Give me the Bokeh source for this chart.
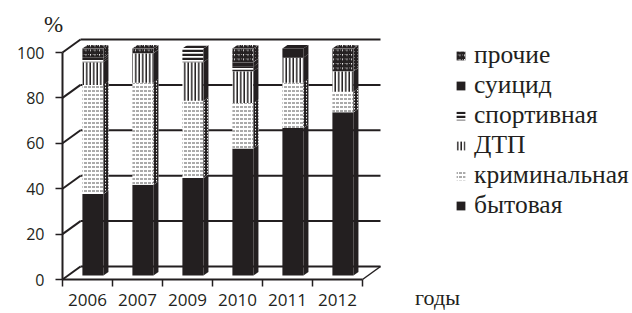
from bokeh.plotting import figure
from bokeh.models import Range1d, FixedTicker, Label, Legend, LegendItem
from bokeh.embed import file_html
from bokeh.resources import INLINE

# ---- data (percent, stacked bottom -> top) ----
years = ["2006", "2007", "2009", "2010", "2011", "2012"]
bytovaya = [36, 40, 43, 56, 65, 72]
kriminalnaya = [48, 45, 34, 20, 20, 9]
dtp = [10, 13, 17, 14, 11, 9]
sportivnaya = [1, 0, 6, 2, 0, 0]
suicid = [1, 0, 0, 2, 4, 0]
prochie = [4, 2, 0, 6, 0, 10]
series_names = ["бытовая", "криминальная", "ДТП", "спортивная", "суицид", "прочие"]
series_values = [bytovaya, kriminalnaya, dtp, sportivnaya, suicid, prochie]
y_ticks = [0, 20, 40, 60, 80, 100]

BLACK = "#231f20"
SERIF = "Liberation Serif"
SANS = "Open Sans"
front_styles = [
    dict(fill_color=BLACK),
    dict(fill_color="white", hatch_pattern="horizontal_dash", hatch_color="#555555", hatch_scale=4, hatch_weight=1),
    dict(fill_color="white", hatch_pattern="vertical_line", hatch_color=BLACK, hatch_scale=3.5, hatch_weight=1.5),
    dict(fill_color="white", hatch_pattern="horizontal_line", hatch_color=BLACK, hatch_scale=4, hatch_weight=2.5),
    dict(fill_color=BLACK),
    dict(fill_color="white", hatch_pattern="right_diagonal_line", hatch_color=BLACK, hatch_scale=4.5, hatch_weight=2),
]
diag_side = dict(fill_color="white", hatch_pattern="right_diagonal_line", hatch_color=BLACK, hatch_scale=3, hatch_weight=1.5)
side_styles = [dict(fill_color=BLACK), diag_side, dict(fill_color=BLACK), dict(fill_color=BLACK),
               dict(fill_color=BLACK), dict(fill_color="white", hatch_pattern="right_diagonal_line",
                                           hatch_color=BLACK, hatch_scale=3, hatch_weight=2.5)]

# ---- geometry ----
FIG_W, FIG_H = 632, 313
ORIGIN_X, ORIGIN_Y = 62, 279      # pixel position of (0, 0) inside the figure
PX_X = 50.0                        # px per category
PX_Y = 2.27                        # px per percent
DX, DY = 18 / PX_X, 13 / PX_Y      # depth of the 3-D box
F, W = 0.3, 0.28                   # bar front depth, bar depth
fx, fy = F * DX, F * DY
bx, by = W * DX, W * DY
HW = 0.21
n = len(years)

p = figure(width=FIG_W, height=FIG_H,
           x_range=Range1d(-ORIGIN_X / PX_X, (FIG_W - ORIGIN_X) / PX_X),
           y_range=Range1d(-(FIG_H - ORIGIN_Y) / PX_Y, ORIGIN_Y / PX_Y),
           min_border_left=0, min_border_right=0, min_border_top=0, min_border_bottom=0,
           output_backend="svg", toolbar_location=None)
p.outline_line_color = None
p.grid.visible = False
p.background_fill_color = "white"

# walls / floor
for v in y_ticks:
    p.segment(x0=[DX], y0=[v + DY], x1=[n + DX], y1=[v + DY], line_color=BLACK, line_width=2)
    p.segment(x0=[0], y0=[v], x1=[DX], y1=[v + DY], line_color=BLACK, line_width=2)
p.segment(x0=[n], y0=[0], x1=[n + DX], y1=[DY], line_color=BLACK, line_width=1.5)

# bars
bottoms = [0] * n
renderers = []
tops_total = [sum(vals) for vals in zip(*series_values)]
top_series = [max(k for k in range(len(series_values)) if series_values[k][i] > 0) for i in range(n)]

for k, vals in enumerate(series_values):
    xs_c = [i + 0.5 + fx for i in range(n)]
    bots = [b + fy for b in bottoms]
    tops = [b + v + fy for b, v in zip(bottoms, vals)]
    r = p.vbar(x=xs_c, width=2 * HW, bottom=bots, top=tops, line_color=None, **front_styles[k])
    renderers.append(r)
    sx, sy = [], []
    for i in range(n):
        if vals[i] <= 0:
            continue
        xr = i + 0.5 + fx + HW
        sx.append([xr, xr + bx, xr + bx, xr])
        sy.append([bots[i], bots[i] + by, tops[i] + by, tops[i]])
    if sx:
        p.patches(xs=sx, ys=sy, line_color=None, **side_styles[k])
    tx, ty = [], []
    for i in range(n):
        if top_series[i] != k:
            continue
        xl = i + 0.5 + fx - HW
        xr = xl + 2 * HW
        T = tops_total[i] + fy
        tx.append([xl, xr, xr + bx, xl + bx])
        ty.append([T, T, T + by, T + by])
    if tx:
        p.patches(xs=tx, ys=ty, line_color=None, **front_styles[k])
    bottoms = [b + v for b, v in zip(bottoms, vals)]

# axes (placed at the data origin, inside the frame)
p.yaxis.fixed_location = 0
p.yaxis.ticker = FixedTicker(ticks=y_ticks)
p.yaxis.bounds = (0, 100)
p.yaxis.major_tick_out = 7
p.yaxis.major_tick_in = 0
p.yaxis.minor_tick_line_color = None
p.yaxis.axis_line_width = 2
p.yaxis.axis_line_color = BLACK
p.yaxis.major_tick_line_color = BLACK
p.yaxis.major_tick_line_width = 1.5
p.yaxis.major_label_standoff = 11
p.yaxis.major_label_text_font = SANS
p.yaxis.major_label_text_font_size = "16px"
p.yaxis.major_label_text_color = BLACK

centers = [i + 0.5 for i in range(n)]
p.xaxis.fixed_location = 0
p.xaxis.ticker = FixedTicker(ticks=centers, minor_ticks=list(range(n + 1)))
p.xaxis.major_label_overrides = {c: y for c, y in zip(centers, years)}
p.xaxis.bounds = (0, n)
p.xaxis.major_tick_out = 0
p.xaxis.major_tick_in = 0
p.xaxis.minor_tick_out = 7
p.xaxis.minor_tick_in = 0
p.xaxis.minor_tick_line_color = BLACK
p.xaxis.minor_tick_line_width = 1.5
p.xaxis.axis_line_width = 2
p.xaxis.axis_line_color = BLACK
p.xaxis.major_label_standoff = 7
p.xaxis.major_label_text_font = SANS
p.xaxis.major_label_text_font_size = "17px"
p.xaxis.major_label_text_color = BLACK

p.add_layout(Label(x=-9 / PX_X, y=(ORIGIN_Y - 24) / PX_Y, text="%", text_font=SERIF,
                   text_font_size="23px", text_color=BLACK, text_align="center", text_baseline="middle"))
p.add_layout(Label(x=(437 - ORIGIN_X) / PX_X, y=(ORIGIN_Y - 297) / PX_Y, text="годы", text_font=SERIF,
                   text_font_size="22px", text_color=BLACK, text_align="center", text_baseline="middle"))

items = [LegendItem(label=name, renderers=[r]) for name, r in zip(series_names, renderers)][::-1]
legend = Legend(items=items, location=(455, 93), padding=0, margin=0, spacing=0,
                glyph_width=11, glyph_height=11, label_height=30, label_standoff=8,
                label_text_font=SERIF, label_text_font_size="25.5px", label_text_color=BLACK,
                border_line_color=None, background_fill_alpha=0)
p.add_layout(legend)

open("out.html", "w").write(file_html(p, INLINE))
